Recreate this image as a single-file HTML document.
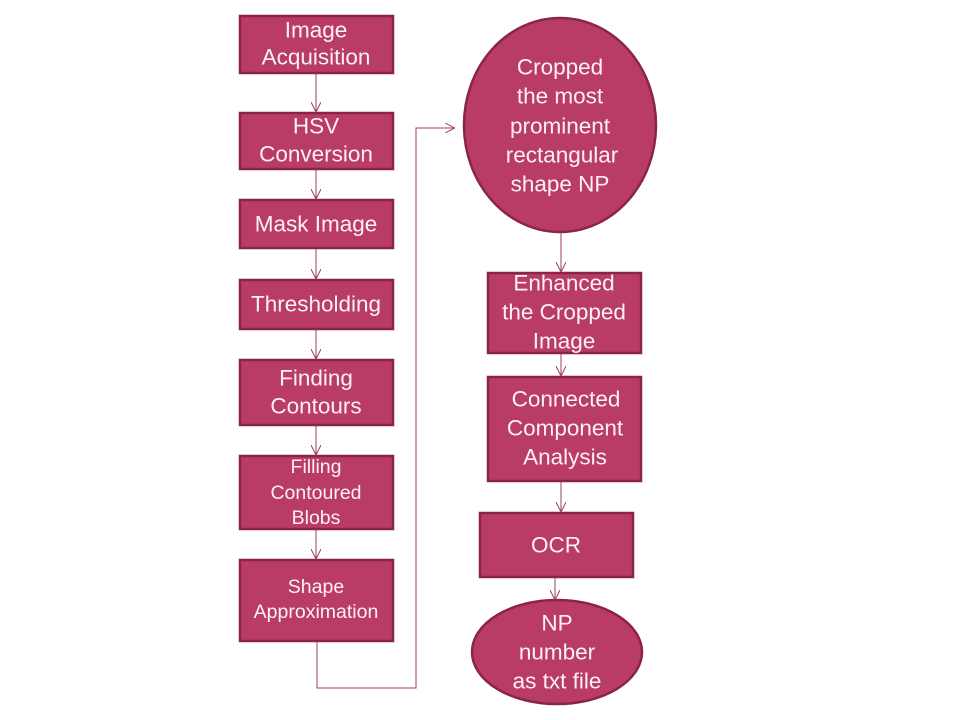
<!DOCTYPE html>
<html>
<head>
<meta charset="utf-8">
<style>
  html,body{margin:0;padding:0;background:#fff;}
  svg{display:block;}
  text{font-family:"Liberation Sans",sans-serif;fill:#fdf0f4;text-anchor:middle;dominant-baseline:central;}
</style>
</head>
<body>
<svg width="960" height="720" viewBox="0 0 960 720" xmlns="http://www.w3.org/2000/svg">
  <defs>
    <marker id="ah" viewBox="0 0 10 10" refX="10" refY="5" markerWidth="10" markerHeight="10" markerUnits="userSpaceOnUse" orient="auto">
      <path d="M0,0 L10,5 L0,10" fill="none" stroke="#9c3d62" stroke-width="1"/>
    </marker>
  </defs>
  <g fill="#b93c68" stroke="#8a2448" stroke-width="2.5">
    <rect x="240" y="16" width="153" height="57"/>
    <rect x="240" y="113" width="153" height="56"/>
    <rect x="240" y="200" width="153" height="48"/>
    <rect x="240" y="280" width="153" height="49"/>
    <rect x="240" y="360" width="153" height="65"/>
    <rect x="240" y="456" width="153" height="73"/>
    <rect x="240" y="560" width="153" height="81"/>
    <ellipse cx="560" cy="125" rx="96" ry="107"/>
    <rect x="488" y="273" width="153" height="80"/>
    <rect x="488" y="377" width="153" height="104"/>
    <rect x="480" y="513" width="153" height="64"/>
    <ellipse cx="557" cy="652" rx="85" ry="52"/>
  </g>
  <g stroke="#9c3d62" stroke-width="1" fill="none" marker-end="url(#ah)">
    <line x1="316" y1="74" x2="316" y2="112"/>
    <line x1="316" y1="170" x2="316" y2="199"/>
    <line x1="316" y1="249" x2="316" y2="279"/>
    <line x1="316" y1="330" x2="316" y2="359"/>
    <line x1="316" y1="426" x2="316" y2="455"/>
    <line x1="316" y1="530" x2="316" y2="559"/>
    <polyline points="317,642 317,688 416,688 416,128 455,128"/>
    <line x1="561" y1="233" x2="561" y2="272"/>
    <line x1="561" y1="354" x2="561" y2="376"/>
    <line x1="561" y1="482" x2="561" y2="512"/>
    <line x1="555" y1="578" x2="555" y2="600"/>
  </g>
  <g font-size="22.5">
    <text x="316" y="30">Image</text>
    <text x="316" y="57">Acquisition</text>
    <text x="316" y="126">HSV</text>
    <text x="316" y="154">Conversion</text>
    <text x="316" y="224">Mask Image</text>
    <text x="316" y="304">Thresholding</text>
    <text x="316" y="378">Finding</text>
    <text x="316" y="406">Contours</text>
  </g>
  <g font-size="19.5">
    <text x="316" y="467">Filling</text>
    <text x="316" y="493">Contoured</text>
    <text x="316" y="518">Blobs</text>
    <text x="316" y="587">Shape</text>
    <text x="316" y="612">Approximation</text>
  </g>
  <g font-size="22.5">
    <text x="560" y="67">Cropped</text>
    <text x="560" y="96">the most</text>
    <text x="560" y="126">prominent</text>
    <text x="562" y="155">rectangular</text>
    <text x="560" y="184">shape NP</text>
    <text x="564" y="283">Enhanced</text>
    <text x="564" y="312">the Cropped</text>
    <text x="564" y="341">Image</text>
    <text x="566" y="399">Connected</text>
    <text x="565" y="428">Component</text>
    <text x="565" y="457">Analysis</text>
    <text x="556" y="545">OCR</text>
    <text x="557" y="623">NP</text>
    <text x="557" y="652">number</text>
    <text x="557" y="681">as txt file</text>
  </g>
</svg>
</body>
</html>
